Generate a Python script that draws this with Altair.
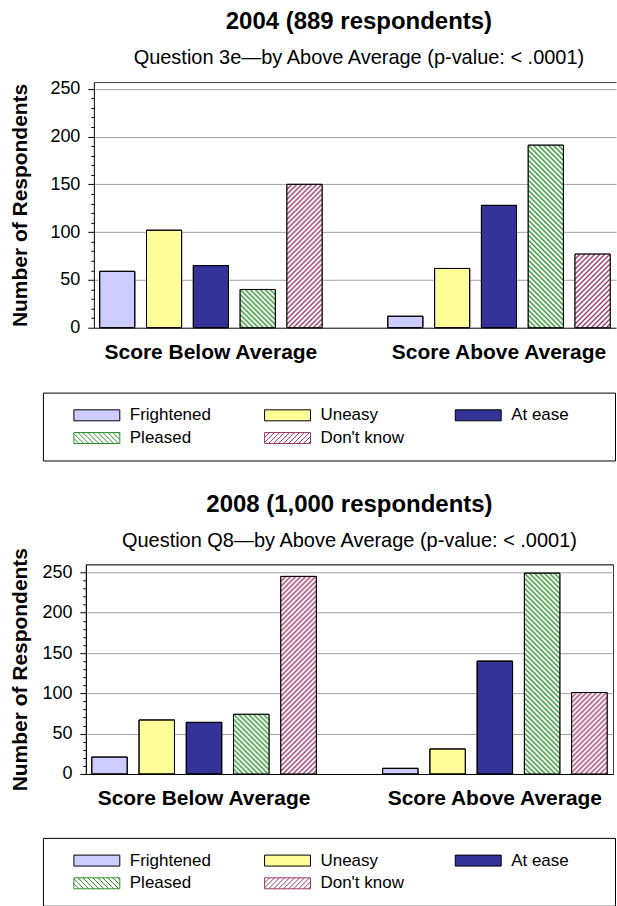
import base64
import altair as alt
import pandas as pd

FONT = "Liberation Sans"

groups = ["Score Below Average", "Score Above Average"]
series = ["Frightened", "Uneasy", "At ease", "Pleased", "Don't know"]
below_2004 = [59, 102, 65, 40, 150]
above_2004 = [12, 62, 128, 191, 77]
below_2008 = [21, 67, 64, 74, 245]
above_2008 = [7, 31, 140, 249, 101]
y_tick_values = list(range(0, 251, 10))

fill_colors = ["#ccccff", "#ffff99", "#333399", "#ffffff", "#ffffff"]
GREEN = "#2a8f2a"
PINK = "#9c3869"
stroke_colors = ["#000000", "#000000", "#000000", GREEN, PINK]


def make_df(below, above):
    rows = []
    for g, vals in zip(groups, [below, above]):
        for s, v in zip(series, vals):
            rows.append({"group": g, "series": s, "value": v})
    return pd.DataFrame(rows)


def hatch_url(color, kind):
    if kind == "back":
        d = "M0,0L5,5M-1,4L1,6M4,-1L6,1"
    else:
        d = "M0,5L5,0M-1,1L1,-1M4,6L6,4"
    svg = ('<svg xmlns="http://www.w3.org/2000/svg" width="100%" height="100%">'
           '<defs><pattern id="h" patternUnits="userSpaceOnUse" width="5" height="5">'
           '<rect width="5" height="5" fill="#ffffff"/>'
           f'<path d="{d}" stroke="{color}" stroke-width="1.4" fill="none"/></pattern></defs>'
           '<rect width="100%" height="100%" fill="url(#h)"/></svg>')
    return "data:image/svg+xml;base64," + base64.b64encode(svg.encode()).decode()


U = 5.5  # legend symbol unit (sqrt(size)/2)


def legend_path(kind):
    L, R, a, h = -40.0, 121.0, 23.0, 5.5
    parts = [f"M{L / U:.3f},0", f"M{R / U:.3f},0"]
    if kind in ("back", "fwd"):
        step = 5.0
        x0 = -a - 2 * h
        while x0 < a:
            t0 = max(0.0, (-a - x0) / (2 * h))
            t1 = min(1.0, (a - x0) / (2 * h))
            if t1 > t0:
                if kind == "back":
                    p0 = (x0 + t0 * 2 * h, -h + t0 * 2 * h)
                    p1 = (x0 + t1 * 2 * h, -h + t1 * 2 * h)
                else:
                    p0 = (x0 + t0 * 2 * h, h - t0 * 2 * h)
                    p1 = (x0 + t1 * 2 * h, h - t1 * 2 * h)
                parts.append(f"M{p0[0] / U:.3f},{p0[1] / U:.3f}L{p1[0] / U:.3f},{p1[1] / U:.3f}")
            x0 += step
    parts.append(f"M{-a / U:.3f},-1H{a / U:.3f}V1H{-a / U:.3f}Z")
    return "".join(parts)


shape_paths = [legend_path("plain"), legend_path("plain"), legend_path("plain"),
               legend_path("back"), legend_path("fwd")]
PLEASED_URL = hatch_url(GREEN, "back")
DONTKNOW_URL = hatch_url(PINK, "fwd")


def panel(df, title, subtitle, ymax, width, height, x_start, view_stroke, title_x,
          legend_x, legend_y, title_offset, title_dx):
    base = alt.Chart(df)
    x = alt.X("group:N", sort=groups, title=None,
              scale=alt.Scale(domain=groups, paddingInner=0.1875, paddingOuter=0,
                              range=[x_start, width]),
              axis=alt.Axis(labelFont=FONT, labelFontSize=21, labelFontWeight="bold",
                            labelColor="black", ticks=False, domainColor="black",
                            labelPadding=14, labelAngle=0, labelLimit=400))
    xo = alt.XOffset("series:N", sort=series,
                     scale=alt.Scale(domain=series, paddingInner=0.25, paddingOuter=0.125))
    y = alt.Y("value:Q", stack=None,
              scale=alt.Scale(domain=[0, ymax], nice=False, zero=True),
              axis=alt.Axis(values=y_tick_values + [ymax], offset=-x_start,
                            labelExpr="datum.value % 50 === 0 ? datum.label : ''",
                            labelOverlap=False, labelFlush=False,
                            tickSize={"condition": [{"test": "datum.value % 50 === 0", "value": 6},
                                                    {"test": "datum.value > 250", "value": 0}],
                                      "value": 3},
                            gridOpacity={"condition": {"test": "(datum.value % 50 === 0 && datum.value > 0) || datum.value > 250", "value": 1}, "value": 0},
                            gridColor={"condition": {"test": "datum.value > 250", "value": "#404040"}, "value": "#a3a3a3"},
                            domainColor="black", tickColor="black",
                            labelFont=FONT, labelFontSize=18, labelColor="black", labelPadding=8,
                            title="Number of Respondents", titleFont=FONT, titleFontSize=21,
                            titleFontWeight="bold", titleColor="black", titleX=title_x))
    fill_scale = alt.Scale(domain=series, range=fill_colors)
    leg = alt.Legend(title=None, orient="none", legendX=legend_x, legendY=legend_y, columns=3,
                     direction="horizontal",
                     padding=14, rowPadding=5, columnPadding=25, strokeColor="black",
                     fillColor="white", labelFont=FONT, labelFontSize=17, labelColor="black",
                     labelOffset=24.5, symbolOffset=31.5, symbolSize=121, symbolStrokeWidth=1,
                     symbolOpacity=1, labelLimit=400)

    bars = base.mark_bar(stroke="black", strokeWidth=1).encode(
        x=x, xOffset=xo, y=y, fill=alt.Fill("series:N", scale=fill_scale, legend=leg))
    hatch1 = base.transform_filter(alt.datum.series == "Pleased").mark_image(aspect=False).encode(
        x=x, xOffset=xo, y=y, y2=alt.datum(0), url=alt.value(PLEASED_URL))
    hatch2 = base.transform_filter(alt.datum.series == "Don't know").mark_image(aspect=False).encode(
        x=x, xOffset=xo, y=y, y2=alt.datum(0), url=alt.value(DONTKNOW_URL))
    outline = base.mark_bar(fillOpacity=0, stroke="black", strokeWidth=1).encode(
        x=x, xOffset=xo, y=y)
    legend_layer = base.transform_filter("false").mark_point(filled=True, size=121, strokeWidth=1, opacity=1).encode(
        x=x, xOffset=xo, y=y,
        fill=alt.Fill("series:N", scale=fill_scale, legend=leg),
        stroke=alt.Stroke("series:N", scale=alt.Scale(domain=series, range=stroke_colors), legend=leg),
        shape=alt.Shape("series:N", scale=alt.Scale(domain=series, range=shape_paths), legend=leg))

    return alt.layer(bars, hatch1, hatch2, outline, legend_layer).properties(
        width=width, height=height,
        view=alt.ViewBackground(stroke=view_stroke, strokeWidth=1),
        title=alt.TitleParams(text=title, subtitle=subtitle, font=FONT, fontSize=24,
                              fontWeight="bold", color="black", subtitleFont=FONT,
                              subtitleFontSize=20, subtitleColor="black", subtitlePadding=14,
                              offset=title_offset, dx=title_dx, anchor="middle", frame="group"))


top = panel(make_df(below_2004, above_2004), "2004 (889 respondents)",
            "Question 3e\u2014by Above Average (p-value: < .0001)",
            257, 531, 246, 8, "transparent", -63, -43, 311, 5.5, 8)
bottom = panel(make_df(below_2008, above_2008), "2008 (1,000 respondents)",
               "Question Q8\u2014by Above Average (p-value: < .0001)",
               260, 528, 210, 0, "#404040", -55, -43, 274, -3.5, 0)

chart = alt.vconcat(top, bottom, spacing=31).resolve_scale(
    fill="independent", stroke="independent", shape="independent",
    x="independent", y="independent", xOffset="independent"
).resolve_legend(fill="independent", stroke="independent", shape="independent").properties(
    padding={"left": 9, "top": 8.5, "right": 0, "bottom": 0},
    background="white"
)

chart.save("out.html", embed_options={"renderer": "svg", "actions": False})
